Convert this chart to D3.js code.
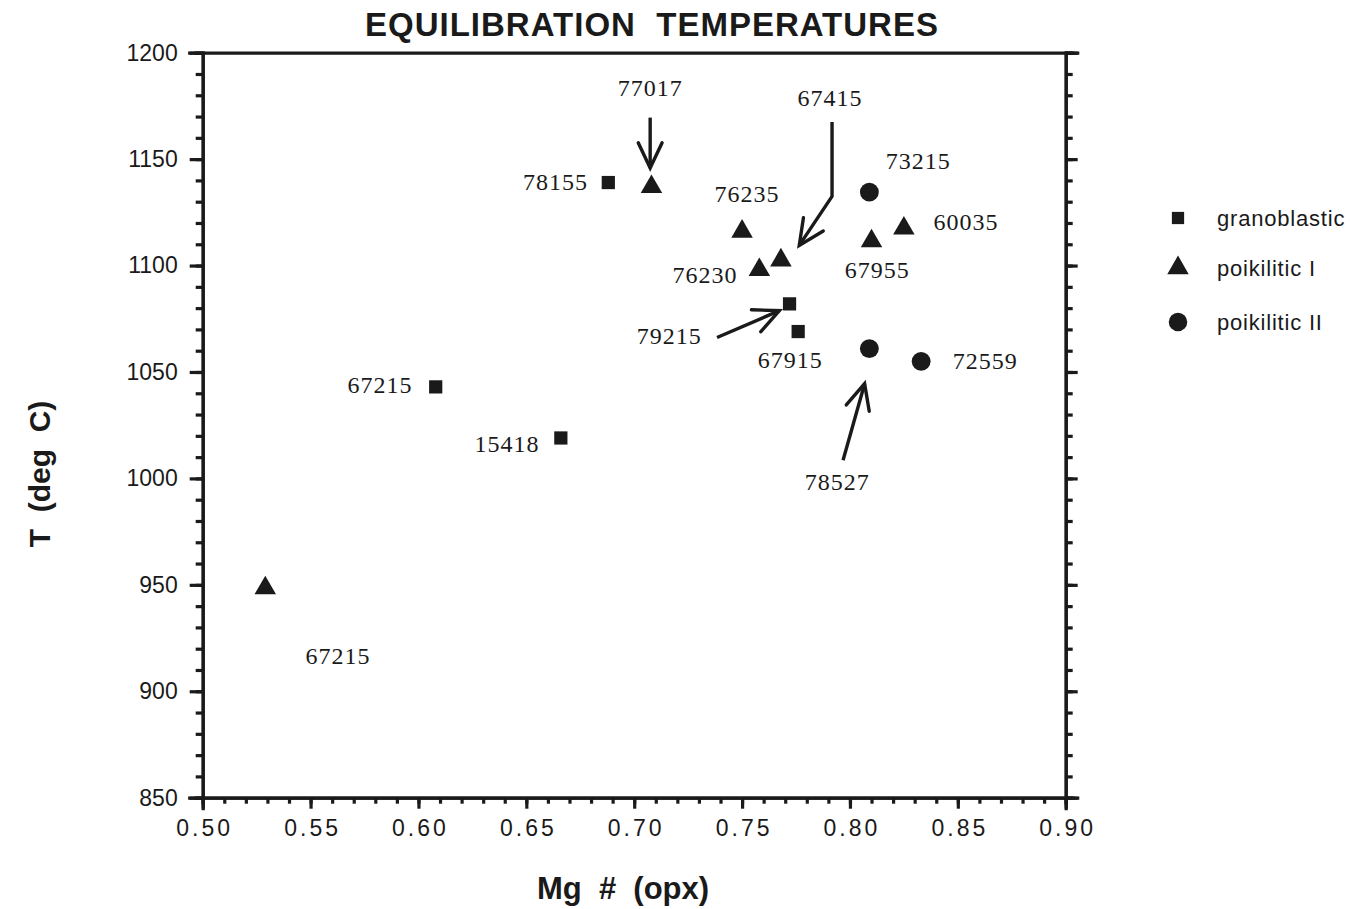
<!DOCTYPE html>
<html>
<head>
<meta charset="utf-8">
<script src="https://cdn.jsdelivr.net/npm/d3@7"></script>
<style>
  body { margin: 0; background: #fff; }
  .axis path, .axis line { stroke: #1a1a1a; stroke-width: 3.2px; }
  .axis text { font-family: "Liberation Sans", Arial, sans-serif; font-size: 23px; fill: #1a1a1a; }
  .lbl { font-family: "Liberation Serif", "Times New Roman", serif; font-size: 24px; fill: #1a1a1a; letter-spacing: 1px; }
</style>
</head>
<body>
<svg id="chart" width="1352" height="909"></svg>
<script>
// data: Mg# of opx vs equilibration temperature
var granoblastic = [
  { id: "78155", mg: 0.688, t: 1139 },
  { id: "79215", mg: 0.772, t: 1082 },
  { id: "67915", mg: 0.776, t: 1069 },
  { id: "67215", mg: 0.608, t: 1043 },
  { id: "15418", mg: 0.666, t: 1019 }
];
var poikiliticI = [
  { id: "77017", mg: 0.708, t: 1137 },
  { id: "76235", mg: 0.750, t: 1116 },
  { id: "76230", mg: 0.758, t: 1098 },
  { id: "67415", mg: 0.768, t: 1102.5 },
  { id: "67955", mg: 0.810, t: 1111.5 },
  { id: "60035", mg: 0.825, t: 1117.5 },
  { id: "67215", mg: 0.529, t: 948.5 }
];
var poikiliticII = [
  { id: "73215", mg: 0.809, t: 1134.5 },
  { id: "78527", mg: 0.809, t: 1061 },
  { id: "72559", mg: 0.833, t: 1055 }
];

// sample labels, placed in data units (anchor: start/middle/end)
var labels = [
  { text: "77017", mg: 0.7074, t: 1179.5, anchor: "middle" },
  { text: "78155", mg: 0.6786, t: 1135.5, anchor: "end" },
  { text: "76235", mg: 0.7523, t: 1130, anchor: "middle" },
  { text: "67415", mg: 0.7908, t: 1175, anchor: "middle" },
  { text: "73215", mg: 0.8316, t: 1145.5, anchor: "middle" },
  { text: "60035", mg: 0.8538, t: 1116.5, anchor: "middle" },
  { text: "76230", mg: 0.7328, t: 1092, anchor: "middle" },
  { text: "67955", mg: 0.8126, t: 1094, anchor: "middle" },
  { text: "79215", mg: 0.7162, t: 1063, anchor: "middle" },
  { text: "67915", mg: 0.7723, t: 1052, anchor: "middle" },
  { text: "72559", mg: 0.8627, t: 1051.5, anchor: "middle" },
  { text: "78527", mg: 0.7941, t: 994.5, anchor: "middle" },
  { text: "67215", mg: 0.5822, t: 1040, anchor: "middle" },
  { text: "15418", mg: 0.6411, t: 1012.5, anchor: "middle" },
  { text: "67215", mg: 0.5627, t: 913, anchor: "middle" }
];

// arrows as polylines in data units, last point is the tip
var arrows = [
  [[0.7074, 1169.5], [0.7074, 1145.8]],
  [[0.7917, 1167.5], [0.7917, 1132.5], [0.7765, 1109.5]],
  [[0.7384, 1066.2], [0.7673, 1078.8]],
  [[0.7968, 1008.5], [0.8068, 1044.5]]
];

var xTicks = [0.50, 0.55, 0.60, 0.65, 0.70, 0.75, 0.80, 0.85, 0.90];
var yTicks = [850, 900, 950, 1000, 1050, 1100, 1150, 1200];
var legendItems = ["granoblastic", "poikilitic I", "poikilitic II"];

var plotLeft = 202.7, plotTop = 52.7, plotW = 863, plotH = 745;
var ink = "#1a1a1a";

var svg = d3.select("#chart");

var x = d3.scaleLinear().domain([0.5, 0.9]).range([plotLeft, plotLeft + plotW]);
var y = d3.scaleLinear().domain([850, 1200]).range([plotTop + plotH, plotTop]);

var xMinor = d3.range(0.5, 0.9001, 0.01).map(function(v) { return +v.toFixed(2); });
var yMinor = d3.range(850, 1201, 10);

// minor ticks first
svg.append("g").attr("class", "axis")
  .attr("transform", "translate(0," + (plotTop + plotH) + ")")
  .call(d3.axisBottom(x).tickValues(xMinor).tickSize(6).tickFormat(""));
svg.append("g").attr("class", "axis")
  .attr("transform", "translate(" + plotLeft + ",0)")
  .call(d3.axisLeft(y).tickValues(yMinor).tickSize(7).tickFormat(""));
svg.append("g").attr("class", "axis")
  .attr("transform", "translate(" + (plotLeft + plotW) + ",0)")
  .call(d3.axisRight(y).tickValues(yMinor).tickSize(7).tickFormat(""));

// major ticks
var xAxis = svg.append("g").attr("class", "axis")
  .attr("transform", "translate(0," + (plotTop + plotH) + ")")
  .call(d3.axisBottom(x).tickValues(xTicks).tickSize(11).tickPadding(11).tickFormat(d3.format(".2f")));
xAxis.selectAll("text").style("letter-spacing", "3px").attr("dx", "1.5px");

svg.append("g").attr("class", "axis")
  .attr("transform", "translate(" + plotLeft + ",0)")
  .call(d3.axisLeft(y).tickValues(yTicks).tickSize(13).tickPadding(12).tickFormat(d3.format("d")));
svg.append("g").attr("class", "axis")
  .attr("transform", "translate(" + (plotLeft + plotW) + ",0)")
  .call(d3.axisRight(y).tickValues(yTicks).tickSize(12).tickFormat(""));

// top frame line
svg.append("g").attr("class", "axis")
  .attr("transform", "translate(0," + plotTop + ")")
  .call(d3.axisTop(x).tickValues([]).tickSizeOuter(0));

svg.selectAll(".axis .domain").attr("stroke-linecap", "square");

// markers
var sq = d3.symbol().type(d3.symbolSquare).size(175);
var tri = d3.symbol().type(d3.symbolTriangle).size(200);
var circ = d3.symbol().type(d3.symbolCircle).size(280);

function plot(data, sym) {
  svg.append("g").selectAll("path")
    .data(data)
    .enter()
    .append("path")
    .attr("d", sym)
    .attr("fill", ink)
    .attr("transform", function(d) { return "translate(" + x(d.mg) + "," + y(d.t) + ")"; });
}
plot(granoblastic, sq);
plot(poikiliticI, tri);
plot(poikiliticII, circ);

// labels
svg.append("g").selectAll("text")
  .data(labels)
  .enter()
  .append("text")
  .attr("class", "lbl")
  .attr("x", function(d) { return x(d.mg); })
  .attr("y", function(d) { return y(d.t); })
  .attr("text-anchor", function(d) { return d.anchor; })
  .text(function(d) { return d.text; });

// arrows
var line = d3.line().x(function(p) { return x(p[0]); }).y(function(p) { return y(p[1]); });
arrows.forEach(function(pts) {
  svg.append("path").attr("d", line(pts))
    .attr("fill", "none").attr("stroke", ink).attr("stroke-width", 3.4)
    .attr("stroke-linejoin", "round");
  var a = pts[pts.length - 2], b = pts[pts.length - 1];
  var tx = x(b[0]), ty = y(b[1]);
  var ang = Math.atan2(ty - y(a[1]), tx - x(a[0]));
  var len = 28, spread = 0.44;
  var head = [
    [tx - len * Math.cos(ang - spread), ty - len * Math.sin(ang - spread)],
    [tx, ty],
    [tx - len * Math.cos(ang + spread), ty - len * Math.sin(ang + spread)]
  ];
  svg.append("path").attr("d", d3.line()(head))
    .attr("fill", "none").attr("stroke", ink).attr("stroke-width", 3.4)
    .attr("stroke-linejoin", "miter").attr("stroke-linecap", "round");
});

// title and axis titles
svg.append("text")
  .attr("x", 652).attr("y", 36)
  .attr("text-anchor", "middle")
  .style("font-family", "Liberation Sans, Arial, sans-serif")
  .style("font-weight", "bold").style("font-size", "33px")
  .style("letter-spacing", "1px")
  .attr("fill", ink)
  .attr("xml:space", "preserve")
  .text("EQUILIBRATION  TEMPERATURES");

svg.append("text")
  .attr("x", 623).attr("y", 899)
  .attr("text-anchor", "middle")
  .style("font-family", "Liberation Sans, Arial, sans-serif")
  .style("font-weight", "bold").style("font-size", "31px")
  .attr("fill", ink)
  .attr("xml:space", "preserve")
  .text("Mg  #  (opx)");

svg.append("text")
  .attr("transform", "translate(50,474) rotate(-90)")
  .attr("text-anchor", "middle")
  .style("font-family", "Liberation Sans, Arial, sans-serif")
  .style("font-weight", "bold").style("font-size", "30px")
  .attr("fill", ink)
  .attr("xml:space", "preserve")
  .text("T  (deg  C)");

// legend
var legendSyms = [
  d3.symbol().type(d3.symbolSquare).size(150),
  d3.symbol().type(d3.symbolTriangle).size(200),
  d3.symbol().type(d3.symbolCircle).size(270)
];
var legendY = [218, 268, 322];
var legend = svg.append("g");
legendItems.forEach(function(name, i) {
  legend.append("path").attr("d", legendSyms[i]())
    .attr("fill", ink)
    .attr("transform", "translate(1178," + legendY[i] + ")");
  legend.append("text")
    .attr("x", 1217).attr("y", legendY[i] + 8)
    .style("font-family", "Liberation Sans, Arial, sans-serif")
    .style("font-size", "22px").style("letter-spacing", "0.8px")
    .attr("fill", ink)
    .text(name);
});
</script>
</body>
</html>
